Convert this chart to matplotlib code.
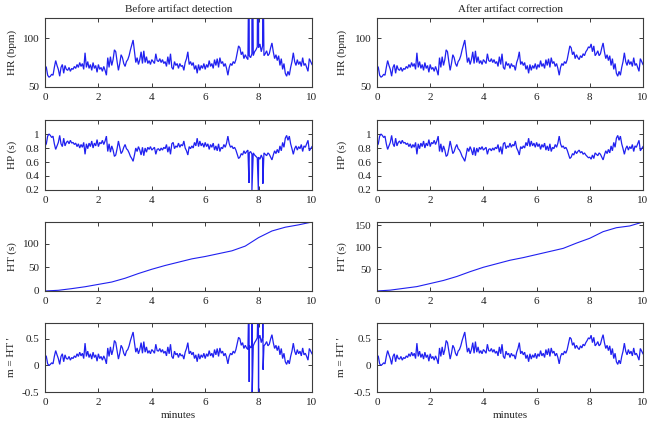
import numpy as np
import matplotlib
matplotlib.use("Agg")
import matplotlib.pyplot as plt

plt.rcParams['font.family'] = ['Liberation Serif', 'DejaVu Serif']
plt.rcParams['font.size'] = 8

# ---------------- data ----------------
step_min = 0.05  # sampling step of the read values (minutes)

hr_after = [
    72, 70, 62, 60, 61, 63, 62, 70, 77, 72,
    68, 61, 70, 73, 64, 72, 68, 67, 70, 66,
    69, 68, 71, 69, 73, 70, 75, 71, 74, 68,
    85, 70, 76, 69, 73, 67, 75, 69, 72, 65,
    73, 68, 70, 66, 71, 67, 62, 80, 70, 81,
    72, 78, 88, 86, 76, 67, 74, 83, 80, 74,
    71, 76, 78, 82, 88, 93, 98, 86, 75, 80,
    73, 78, 86, 74, 87, 75, 81, 74, 77, 73,
    78, 76, 74, 84, 77, 76, 79, 75, 78, 74,
    76, 71, 81, 73, 84, 70, 68, 76, 72, 74,
    69, 74, 71, 72, 67, 75, 79, 86, 73, 76,
    72, 75, 68, 72, 64, 73, 67, 72, 69, 74,
    68, 73, 70, 77, 71, 74, 69, 78, 72, 79,
    70, 80, 74, 76, 71, 74, 69, 62, 70, 74,
    72, 76, 74, 78, 85, 92, 90, 83, 86, 79,
    83, 80, 78, 82, 80, 84, 82, 86, 88, 91,
    90, 94, 86, 92, 82, 84, 87, 82, 84, 90,
    95, 86, 79, 83, 77, 82, 72, 79, 68, 74,
    64, 61, 66, 62, 70, 76, 85, 76, 72, 78,
    73, 76, 71, 80, 72, 74, 70, 66, 79, 76,
    73,
]

hp_after = [
    0.83, 0.86, 0.97, 1.00, 0.98, 0.95, 0.97, 0.86, 0.78, 0.83,
    0.88, 0.98, 0.86, 0.82, 0.94, 0.83, 0.88, 0.90, 0.86, 0.91,
    0.87, 0.88, 0.85, 0.87, 0.82, 0.86, 0.80, 0.85, 0.81, 0.88,
    0.71, 0.86, 0.79, 0.87, 0.82, 0.90, 0.80, 0.87, 0.83, 0.92,
    0.82, 0.88, 0.86, 0.91, 0.85, 0.90, 0.97, 0.75, 0.86, 0.74,
    0.83, 0.77, 0.68, 0.70, 0.79, 0.90, 0.81, 0.72, 0.75, 0.81,
    0.85, 0.79, 0.77, 0.73, 0.68, 0.65, 0.61, 0.70, 0.80, 0.75,
    0.82, 0.77, 0.70, 0.81, 0.69, 0.80, 0.74, 0.81, 0.78, 0.82,
    0.77, 0.79, 0.81, 0.71, 0.78, 0.79, 0.76, 0.80, 0.77, 0.81,
    0.79, 0.85, 0.74, 0.82, 0.71, 0.86, 0.88, 0.79, 0.83, 0.81,
    0.87, 0.81, 0.85, 0.83, 0.90, 0.80, 0.76, 0.70, 0.82, 0.79,
    0.83, 0.80, 0.88, 0.83, 0.94, 0.82, 0.90, 0.83, 0.87, 0.81,
    0.88, 0.82, 0.86, 0.78, 0.85, 0.81, 0.87, 0.77, 0.83, 0.76,
    0.86, 0.75, 0.81, 0.79, 0.85, 0.81, 0.87, 0.97, 0.86, 0.81,
    0.83, 0.79, 0.81, 0.77, 0.71, 0.65, 0.67, 0.72, 0.70, 0.76,
    0.72, 0.75, 0.77, 0.73, 0.75, 0.71, 0.73, 0.70, 0.68, 0.66,
    0.67, 0.64, 0.70, 0.65, 0.73, 0.71, 0.69, 0.73, 0.71, 0.67,
    0.63, 0.70, 0.76, 0.72, 0.78, 0.73, 0.83, 0.76, 0.88, 0.81,
    0.94, 0.98, 0.91, 0.97, 0.86, 0.79, 0.71, 0.79, 0.83, 0.77,
    0.82, 0.79, 0.85, 0.75, 0.83, 0.81, 0.86, 0.91, 0.76, 0.79,
    0.82,
]

m_after = [
    0.20, 0.17, 0.03, 0.00, 0.02, 0.05, 0.03, 0.17, 0.28, 0.20,
    0.13, 0.02, 0.17, 0.22, 0.07, 0.20, 0.13, 0.12, 0.17, 0.10,
    0.15, 0.13, 0.18, 0.15, 0.22, 0.17, 0.25, 0.18, 0.23, 0.13,
    0.42, 0.17, 0.27, 0.15, 0.22, 0.12, 0.25, 0.15, 0.20, 0.08,
    0.22, 0.13, 0.17, 0.10, 0.18, 0.12, 0.03, 0.33, 0.17, 0.35,
    0.20, 0.30, 0.47, 0.43, 0.27, 0.12, 0.23, 0.38, 0.33, 0.23,
    0.18, 0.27, 0.30, 0.37, 0.47, 0.55, 0.63, 0.43, 0.25, 0.33,
    0.22, 0.30, 0.43, 0.23, 0.45, 0.25, 0.35, 0.23, 0.28, 0.22,
    0.30, 0.27, 0.23, 0.40, 0.28, 0.27, 0.32, 0.25, 0.30, 0.23,
    0.27, 0.18, 0.35, 0.22, 0.40, 0.17, 0.13, 0.27, 0.20, 0.23,
    0.15, 0.23, 0.18, 0.20, 0.12, 0.25, 0.32, 0.43, 0.22, 0.27,
    0.20, 0.25, 0.13, 0.20, 0.07, 0.22, 0.12, 0.20, 0.15, 0.23,
    0.13, 0.22, 0.17, 0.28, 0.18, 0.23, 0.15, 0.30, 0.20, 0.32,
    0.17, 0.33, 0.23, 0.27, 0.18, 0.23, 0.15, 0.03, 0.17, 0.23,
    0.20, 0.27, 0.23, 0.30, 0.42, 0.53, 0.50, 0.38, 0.43, 0.32,
    0.38, 0.33, 0.30, 0.37, 0.33, 0.40, 0.37, 0.43, 0.47, 0.52,
    0.50, 0.57, 0.43, 0.53, 0.37, 0.40, 0.45, 0.37, 0.40, 0.50,
    0.58, 0.43, 0.32, 0.38, 0.28, 0.37, 0.20, 0.32, 0.13, 0.23,
    0.07, 0.02, 0.10, 0.03, 0.17, 0.27, 0.42, 0.27, 0.20, 0.30,
    0.22, 0.27, 0.18, 0.33, 0.20, 0.23, 0.17, 0.10, 0.32, 0.27,
    0.22,
]

# heart time, sampled every 0.5 min
ht_minutes = [0, 0.5, 1, 1.5, 2, 2.5, 3, 3.5, 4, 4.5, 5,
              5.5, 6, 6.5, 7, 7.5, 8, 8.5, 9, 9.5, 10]
ht_before = [0, 1.5, 5, 9, 14, 19, 27, 37, 46, 54, 61,
             68, 73, 79, 85, 95, 113, 127, 135, 140, 146]
ht_after = [0, 2, 6, 10, 17, 24, 33, 44, 54, 62, 70,
            76, 83, 90, 97, 109, 120, 135, 144, 148, 157]

# artifacts (only in the uncorrected record)
art_minutes = [7.64, 7.75, 7.99, 8.16]
art_hr = [200, 290, 300, 205]
art_hp = [0.30, 0.20, 0.20, 0.29]
art_m_high = [1.5, 1.5, 1.5, 1.5]
art_m_low = [-0.31, -0.60, -0.60, -0.08]

titles = ["Before artifact detection", "After artifact correction"]
ylabels = ["HR (bpm)", "HP (s)", "HT (s)", "m = HT '"]
xticks = [0, 2, 4, 6, 8, 10]

# ---------------- build series ----------------
t = np.arange(len(hr_after)) * step_min

def with_spikes(base, extra_t, extra_v):
    tt = np.concatenate([t, np.asarray(extra_t, float)])
    vv = np.concatenate([np.asarray(base, float), np.asarray(extra_v, float)])
    order = np.argsort(tt, kind="stable")
    return tt[order], vv[order]

hr_b_t, hr_b = with_spikes(hr_after, art_minutes, art_hr)
hp_b_t, hp_b = with_spikes(hp_after, art_minutes, art_hp)
m_ext_t = list(art_minutes) + [a + 0.008 for a in art_minutes]
m_ext_v = list(art_m_high) + list(art_m_low)
m_b_t, m_b = with_spikes(m_after, m_ext_t, m_ext_v)

# ---------------- figure ----------------
W, H = 654, 421
fig = plt.figure(figsize=(W / 100, H / 100), dpi=100)

cols_px = [(45, 312), (377, 643)]
rows_px = [(18, 87), (120, 190), (222, 291), (323, 392)]

blue = "#2020f0"
spine_c = "#3c3c3c"

def make_ax(ci, ri):
    x0, x1 = cols_px[ci]
    y0, y1 = rows_px[ri]
    ax = fig.add_axes([x0 / W, 1 - y1 / H, (x1 - x0) / W, (y1 - y0) / H])
    for s in ax.spines.values():
        s.set_color(spine_c)
        s.set_linewidth(0.8)
    ax.tick_params(direction="in", top=True, right=True, length=3,
                   width=0.7, color=spine_c, labelsize=8, pad=4,
                   labelcolor="#222222")
    ax.set_xlim(0, 10)
    ax.set_xticks(xticks)
    ax.set_xticklabels([str(v) for v in xticks])
    return ax

series = {
    0: [(hr_b_t, hr_b), (hp_b_t, hp_b), (ht_minutes, ht_before), (m_b_t, m_b)],
    1: [(t, hr_after), (t, hp_after), (ht_minutes, ht_after), (t, m_after)],
}

ylims = [[(50, 120.5), (0.2, 1.2), (0, 146), (-0.5, 0.8)],
         [(50, 120.5), (0.2, 1.2), (0, 157), (-0.5, 0.8)]]
yticks = [[[50, 100], [0.2, 0.4, 0.6, 0.8, 1], [0, 50, 100], [-0.5, 0, 0.5]],
          [[50, 100], [0.2, 0.4, 0.6, 0.8, 1], [50, 100, 150], [-0.5, 0, 0.5]]]

for ci in range(2):
    for ri in range(4):
        ax = make_ax(ci, ri)
        xx, yy = series[ci][ri]
        lw = 0.8 if ri == 2 else 0.9
        ax.plot(xx, yy, color=blue, lw=lw, solid_joinstyle="miter")
        ax.set_ylim(*ylims[ci][ri])
        ax.set_yticks(yticks[ci][ri])
        ax.set_yticklabels([("%g" % v) for v in yticks[ci][ri]])
        ax.set_ylabel(ylabels[ri], fontsize=8, color="#222222", va="center")
        x0, x1 = cols_px[ci]
        lab_x = 12 if ci == 0 else 342
        ax.yaxis.set_label_coords((lab_x - x0) / (x1 - x0), 0.5)
        if ri == 0:
            ax.set_title(titles[ci], fontsize=8, color="#222222", pad=4)
    x0, x1 = cols_px[ci]
    fig.text((x0 + x1) / 2 / W, 1.5 / H, "minutes", ha="center",
             va="bottom", fontsize=8, color="#222222")

fig.savefig("out.png", dpi=100)
